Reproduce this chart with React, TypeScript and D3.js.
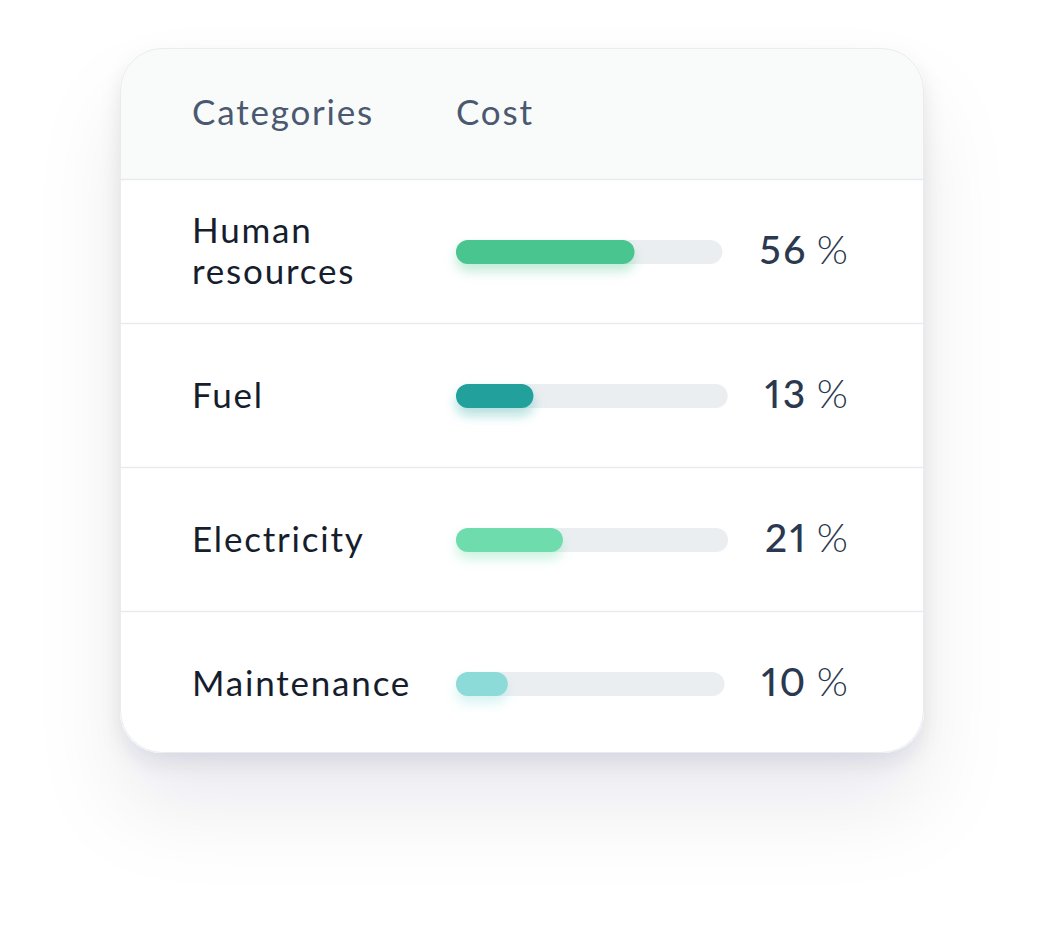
import React, { useEffect, useRef } from "react";
import * as d3 from "d3";

const headers = ["Categories", "Cost"];
const categories = ["Human resources", "Fuel", "Electricity", "Maintenance"];
const costPercent = [56, 13, 21, 10];
// share of each track that is filled
const barFill = [0.67, 0.285, 0.393, 0.193];
const barColors = ["#48c58f", "#21a19c", "#6edcac", "#8ddbd9"];

const W = 1044;
const H = 948;
const FONT = "Lato, 'Noto Sans', sans-serif";

export default function App() {
  const ref = useRef<SVGSVGElement | null>(null);

  useEffect(() => {
    const svg = d3.select(ref.current);
    svg.selectAll("*").remove();

    const card = { x: 120, y: 48, w: 804, h: 705, r: 42 };
    const headerBottom = 179;
    const labelX = 192;
    const barX = 456;
    const valueRight = 848;
    const LS = 1.8;

    const defs = svg.append("defs");
    const sh = defs
      .append("filter")
      .attr("id", "cardShadow")
      .attr("x", "-30%")
      .attr("y", "-30%")
      .attr("width", "160%")
      .attr("height", "170%");
    sh.append("feDropShadow")
      .attr("dx", 0)
      .attr("dy", 10)
      .attr("stdDeviation", 10)
      .attr("flood-color", "#1c2440")
      .attr("flood-opacity", 0.09);
    const sh2 = defs
      .append("filter")
      .attr("id", "cardShadow2")
      .attr("x", "-30%")
      .attr("y", "-30%")
      .attr("width", "160%")
      .attr("height", "170%");
    sh2
      .append("feDropShadow")
      .attr("dx", 0)
      .attr("dy", 55)
      .attr("stdDeviation", 42)
      .attr("flood-color", "#1c2440")
      .attr("flood-opacity", 0.08);

    barColors.forEach((c, i) => {
      const f = defs
        .append("filter")
        .attr("id", "glow" + i)
        .attr("x", "-50%")
        .attr("y", "-100%")
        .attr("width", "200%")
        .attr("height", "400%");
      f.append("feDropShadow")
        .attr("dx", 0)
        .attr("dy", 7)
        .attr("stdDeviation", 6)
        .attr("flood-color", c)
        .attr("flood-opacity", 0.35);
    });

    const clip = defs.append("clipPath").attr("id", "cardClip");
    clip
      .append("rect")
      .attr("x", card.x)
      .attr("y", card.y)
      .attr("width", card.w)
      .attr("height", card.h)
      .attr("rx", card.r);

    // card shadows and body
    svg
      .append("rect")
      .attr("x", card.x)
      .attr("y", card.y)
      .attr("width", card.w)
      .attr("height", card.h)
      .attr("rx", card.r)
      .attr("fill", "#ffffff")
      .attr("filter", "url(#cardShadow2)");
    svg
      .append("rect")
      .attr("x", card.x)
      .attr("y", card.y)
      .attr("width", card.w)
      .attr("height", card.h)
      .attr("rx", card.r)
      .attr("fill", "#ffffff")
      .attr("filter", "url(#cardShadow)");

    const g = svg.append("g").attr("clip-path", "url(#cardClip)");
    g.append("rect")
      .attr("x", card.x)
      .attr("y", card.y)
      .attr("width", card.w)
      .attr("height", headerBottom - card.y)
      .attr("fill", "#f9fbfb");

    svg
      .append("rect")
      .attr("x", card.x + 0.5)
      .attr("y", card.y + 0.5)
      .attr("width", card.w - 1)
      .attr("height", card.h - 1)
      .attr("rx", card.r)
      .attr("fill", "none")
      .attr("stroke", "#e9ebf0")
      .attr("stroke-width", 1);

    // header
    const headerX = d3.scaleOrdinal<string, number>().domain(headers).range([labelX, barX]);
    const headerMid = (card.y + headerBottom) / 2;
    svg
      .selectAll("text.header")
      .data(headers)
      .join("text")
      .attr("class", "header")
      .attr("x", (d) => headerX(d))
      .attr("y", headerMid + 11.5)
      .attr("font-family", FONT)
      .attr("font-size", 35)
      .attr("letter-spacing", LS)
      .attr("fill", "#4a5870")
      .text((d) => d);

    // rows
    const y = d3
      .scaleBand<string>()
      .domain(categories)
      .range([headerBottom, headerBottom + 144 * categories.length]);

    // separators
    svg
      .selectAll("line.sep")
      .data(categories)
      .join("line")
      .attr("class", "sep")
      .attr("x1", card.x)
      .attr("x2", card.x + card.w)
      .attr("y1", (d) => y(d)! + 0.5)
      .attr("y2", (d) => y(d)! + 0.5)
      .attr("stroke", "#e8ebee")
      .attr("stroke-width", 1.5);

    categories.forEach((cat, i) => {
      const cy = y(cat)! + y.bandwidth() / 2;

      // label with wrapping
      const words = cat.split(" ");
      const lines: string[] = [];
      const probe = svg
        .append("text")
        .attr("font-family", FONT)
        .attr("font-size", 35)
        .attr("letter-spacing", LS)
        .attr("visibility", "hidden");
      let cur = "";
      words.forEach((w) => {
        const test = cur ? cur + " " + w : w;
        probe.text(test);
        const len = (probe.node() as SVGTextElement).getComputedTextLength();
        if (len > 235 && cur) {
          lines.push(cur);
          cur = w;
        } else cur = test;
      });
      lines.push(cur);
      probe.remove();
      const lh = 41;
      const lab = svg
        .append("text")
        .attr("font-family", FONT)
        .attr("font-size", 35)
        .attr("letter-spacing", LS)
        .attr("fill", "#161e2e");
      lines.forEach((ln, k) => {
        lab
          .append("tspan")
          .attr("x", labelX)
          .attr("y", cy + 12.5 + (k - (lines.length - 1) / 2) * lh)
          .text(ln);
      });

      // value
      const val = svg
        .append("text")
        .attr("x", valueRight)
        .attr("y", cy + 13)
        .attr("text-anchor", "end")
        .attr("font-family", FONT)
        .attr("font-size", 39)
        .attr("style", "font-feature-settings: 'pnum' 1")
        .attr("fill", "#2b3950");
      val
        .append("tspan")
        .attr("font-weight", 500)
        .attr("letter-spacing", 2.5)
        .text(String(costPercent[i]));
      val
        .append("tspan")
        .attr("font-weight", 300)
        .attr("font-size", 40)
        .attr("dx", 9)
        .text("%");
      const bb = (val.node() as SVGTextElement).getBBox();
      const trackEnd = bb.x - 37;

      const x = d3.scaleLinear().domain([0, 1]).range([barX, trackEnd]);
      const bh = 24;
      svg
        .append("rect")
        .attr("x", x(0))
        .attr("y", cy + 1 - bh / 2)
        .attr("width", x(1) - x(0))
        .attr("height", bh)
        .attr("rx", bh / 2)
        .attr("fill", "#ebeef1");
      svg
        .append("rect")
        .attr("x", x(0))
        .attr("y", cy + 1 - bh / 2)
        .attr("width", x(barFill[i]) - x(0))
        .attr("height", bh)
        .attr("rx", bh / 2)
        .attr("fill", barColors[i])
        .attr("filter", `url(#glow${i})`);
    });
  }, []);

  return (
    <svg
      ref={ref}
      width={W}
      height={H}
      style={{ position: "absolute", left: 0, top: 0, display: "block", background: "#ffffff" }}
    />
  );
}
